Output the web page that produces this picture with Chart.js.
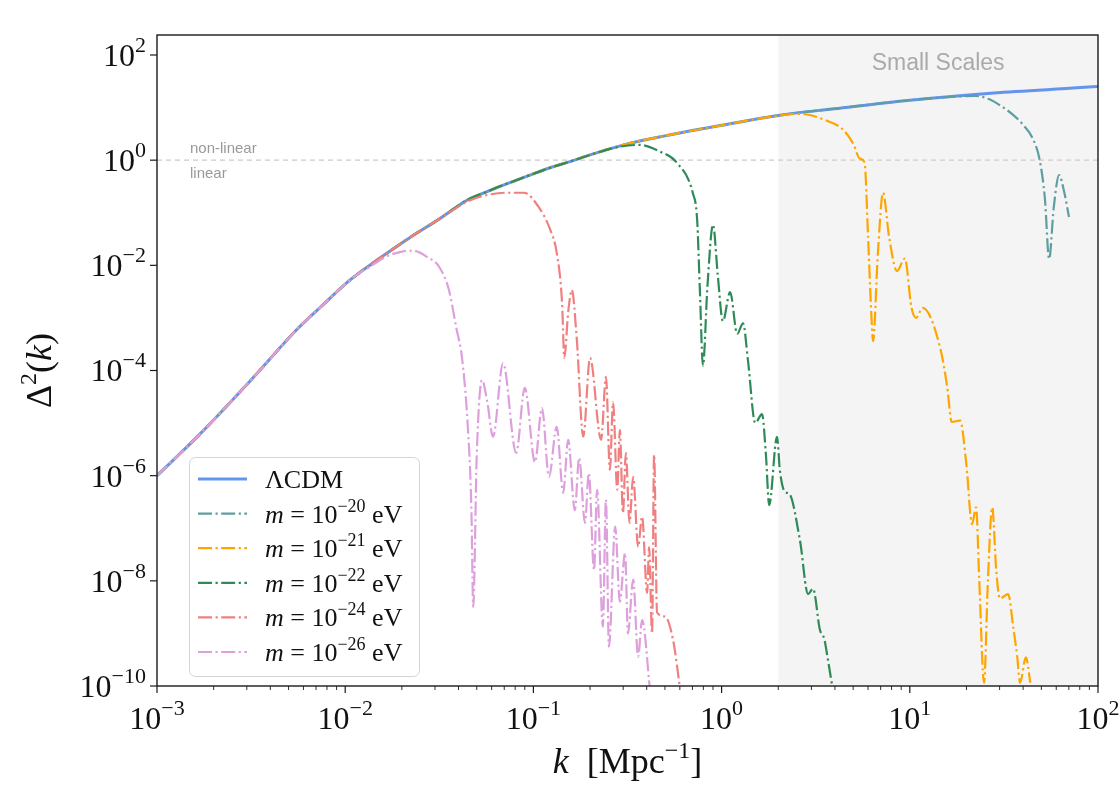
<!DOCTYPE html>
<html>
<head>
<meta charset="utf-8">
<title>Delta^2(k)</title>
<script src="https://cdn.jsdelivr.net/npm/chart.js@4.4.0/dist/chart.umd.min.js"></script>
<style>
body{margin:0;background:#fff;}
#box{width:1119px;height:791px;}
</style>
</head>
<body>
<div id="box"><canvas id="myChart" width="1119" height="791"></canvas></div>
<script>

// LCDM reference curve
const kLCDM = [1.0e-3, 1.7e-3, 3.16e-3, 5.6e-3, 7.9e-3, 1.0e-2, 1.17e-2, 1.41e-2, 1.78e-2, 2.24e-2, 3.16e-2, 3.98e-2, 4.6e-2, 5.25e-2, 6.3e-2, 7.9e-2, 0.1, 0.126, 0.158, 0.2, 0.316, 0.5, 1.0, 2.0, 3.98, 10, 31.6, 100];
const dLCDM = [1.0e-6, 6.3e-6, 6.6e-5, 6.3e-4, 2.0e-3, 4.4e-3, 6.9e-3, 1.12e-2, 2.0e-2, 3.5e-2, 7.6e-2, 0.135, 0.185, 0.225, 0.295, 0.40, 0.55, 0.74, 0.95, 1.26, 2.04, 2.9, 4.6, 7.1, 9.5, 13.8, 19.5, 25.1];

// m = 1e-20 eV (only the part after it leaves LCDM)
const k20 = [17.8, 22.4, 26.3, 30.2, 35.5, 39.8, 45.2, 49.0, 52.2, 55.0, 58.2, 62.1, 66.1, 70.1];
const d20 = [16.2, 16.6, 14.5, 11.0, 7.2, 4.8, 2.5, 1.0, 0.19, 1.32e-2, 0.126, 0.52, 0.25, 8.3e-2];

// m = 1e-21 eV
const k21 = [1.78, 2.61, 3.63, 4.42, 5.01, 5.43, 5.75, 6.0, 6.24, 6.38, 6.76, 7.21, 7.76, 8.55, 9.42, 10.2, 10.8, 11.7, 14.5, 15.8, 16.7, 18.5, 20.0, 21.4, 22.5, 23.4, 24.8, 26.0, 27.4, 28.8, 30.1, 33.3, 35.5, 37.2, 38.5, 41.4, 43.7];
const d21 = [6.6, 7.6, 5.6, 3.8, 2.04, 1.07, 0.91, 3.6e-2, 1.26e-3, 3.6e-4, 1.58e-2, 0.24, 3.5e-2, 7.8e-3, 1.35e-2, 1.58e-3, 1.0e-3, 1.55e-3, 2.7e-4, 4.9e-5, 1.05e-5, 1.12e-5, 1.58e-6, 1.2e-7, 2.5e-7, 1.0e-8, 1.15e-10, 1.0e-8, 2.5e-7, 1.58e-8, 4.6e-9, 5.6e-9, 1.26e-9, 3.7e-10, 1.15e-10, 3.5e-10, 1.15e-10];

// m = 1e-22 eV
const k22 = [0.282, 0.368, 0.471, 0.579, 0.705, 0.741, 0.767, 0.796, 0.841, 0.9, 0.955, 1.016, 1.11, 1.21, 1.3, 1.38, 1.51, 1.64, 1.72, 1.79, 1.97, 2.04, 2.17, 2.29, 2.61, 2.88, 3.06, 3.33, 3.51, 3.67, 3.91];
const d22 = [1.78, 1.95, 1.45, 0.89, 0.229, 7.6e-2, 3.2e-3, 1.23e-4, 4.0e-3, 5.9e-2, 6.3e-3, 8.7e-4, 3.1e-3, 5.0e-4, 7.9e-4, 1.58e-4, 1.0e-5, 1.48e-5, 2.5e-6, 2.75e-7, 5.5e-6, 1.26e-6, 4.9e-7, 4.5e-7, 5.8e-8, 5.6e-9, 7.1e-9, 1.17e-9, 7.9e-10, 3.2e-10, 8e-11];

// m = 1e-24 eV
const k24 = [3.55e-2, 4.47e-2, 5.6e-2, 7.1e-2, 8.9e-2, 0.107, 0.123, 0.133, 0.142, 0.146, 0.153, 0.16, 0.17, 0.184, 0.2, 0.229, 0.243, 0.255, 0.265, 0.279, 0.288, 0.299, 0.31, 0.324, 0.339, 0.36, 0.378, 0.402, 0.412, 0.427, 0.438, 0.454, 0.50, 0.552, 0.586, 0.603];
const d24 = [0.10, 0.165, 0.215, 0.24, 0.24, 0.126, 4.7e-2, 1.74e-2, 1.95e-3, 1.74e-4, 1.26e-3, 3.4e-3, 4.0e-4, 5.5e-6, 1.74e-4, 4.8e-6, 7.6e-5, 1.29e-6, 2.5e-5, 5.4e-7, 7.4e-6, 1.95e-7, 2.7e-6, 1.26e-7, 9.5e-7, 4.4e-8, 1.66e-7, 5.9e-9, 4.4e-8, 1.0e-9, 2.5e-6, 2.5e-9, 2.1e-9, 7.6e-10, 1.8e-10, 8e-11];

// m = 1e-26 eV
const k26 = [1.32e-2, 1.66e-2, 2.0e-2, 2.29e-2, 2.75e-2, 3.16e-2, 3.55e-2, 3.9e-2, 4.17e-2, 4.47e-2, 4.68e-2, 4.79e-2, 5.0e-2, 5.33e-2, 5.69e-2, 6.1e-2, 6.9e-2, 8.1e-2, 9.0e-2, 0.102, 0.111, 0.121, 0.133, 0.144, 0.153, 0.166, 0.175, 0.188, 0.197, 0.21, 0.218, 0.234, 0.243, 0.252, 0.272, 0.288, 0.307, 0.318, 0.339, 0.36, 0.378, 0.417];
const d26 = [8.9e-3, 1.48e-2, 1.82e-2, 1.9e-2, 1.41e-2, 9.3e-3, 3.5e-3, 6.3e-4, 1.8e-4, 1.0e-5, 2.5e-7, 3.2e-9, 2.5e-6, 6.6e-5, 2.5e-5, 5.5e-6, 1.38e-4, 2.7e-6, 4.7e-5, 1.8e-6, 1.95e-5, 9.5e-7, 8.5e-6, 4.7e-7, 4.8e-6, 2.2e-7, 2.2e-6, 1.26e-7, 1.12e-6, 1.6e-8, 5.4e-7, 1.35e-9, 3.5e-7, 5.6e-10, 1.07e-7, 4.0e-9, 3.4e-8, 1.0e-9, 1.05e-8, 3.6e-10, 1.8e-9, 8e-11];

const labels = ["ΛCDM", "−20", "−21", "−22", "−24", "−26"];
const colors = ["#6495ED", "#5F9EA0", "#FFA500", "#2E8B57", "#F08080", "#DDA0DD"];

const xTickExp = [-3, -2, -1, 0, 1, 2];
const yTickExp = [2, 0, -2, -4, -6, -8, -10];

const smallScaleStart = 2;
const yTop = 240;

// the model curves sit on LCDM until they turn over
function withLCDM(kArr, dArr){
    let pts = [];
    for(let i=0; i<kLCDM.length; i++){
        if(kLCDM[i] < kArr[0]) pts.push({x:kLCDM[i], y:dLCDM[i]});
    }
    for(let i=0; i<kArr.length; i++){
        pts.push({x:kArr[i], y:dArr[i]});
    }
    return pts;
}

const serif = "'Liberation Serif', 'Times New Roman', serif";
const sans = "'Liberation Sans', Arial, sans-serif";
const dashDot = [14, 3.5, 2.2, 3.5];

// draws pieces like 10 + superscript one after another
function richText(ctx, parts, x, y, align){
    let w = 0;
    parts.forEach(p => {
        ctx.font = p[2] + " " + p[1] + "px " + serif;
        w += ctx.measureText(p[0]).width;
    });
    let cx = x;
    if(align === "right") cx = x - w;
    if(align === "center") cx = x - w/2;
    ctx.textAlign = "left";
    ctx.textBaseline = "alphabetic";
    parts.forEach(p => {
        ctx.font = p[2] + " " + p[1] + "px " + serif;
        ctx.fillText(p[0], cx, y - p[3]);
        cx += ctx.measureText(p[0]).width;
    });
}

const whiteBack = {
    id: "whiteBack",
    beforeDraw(chart){
        const ctx = chart.ctx;
        ctx.save();
        ctx.fillStyle = "#ffffff";
        ctx.fillRect(0, 0, chart.width, chart.height);
        ctx.restore();
    }
};

const axesAndText = {
    id: "axesAndText",
    afterDraw(chart){
        const ctx = chart.ctx;
        const a = chart.chartArea;
        const xs = chart.scales.x, ys = chart.scales.y;
        ctx.save();

        // texts in the plot
        ctx.fillStyle = "#aaaaaa";
        ctx.font = "23px " + sans;
        ctx.textAlign = "center";
        ctx.fillText("Small Scales", (xs.getPixelForValue(smallScaleStart) + a.right)/2, 70);
        ctx.fillStyle = "#999999";
        ctx.font = "15px " + sans;
        ctx.textAlign = "left";
        ctx.fillText("non-linear", a.left + 33, ys.getPixelForValue(1) - 7);
        ctx.fillText("linear", a.left + 33, ys.getPixelForValue(1) + 18);

        // frame
        ctx.strokeStyle = "#1a1a1a";
        ctx.lineWidth = 1.4;
        ctx.strokeRect(a.left, a.top, a.right - a.left, a.bottom - a.top);

        // x ticks
        ctx.fillStyle = "#111111";
        for(let e=-3; e<=2; e++){
            for(let s=1; s<=9; s++){
                if(e === 2 && s > 1) break;
                const px = xs.getPixelForValue(s * Math.pow(10, e));
                ctx.lineWidth = s === 1 ? 1.2 : 0.9;
                ctx.beginPath();
                ctx.moveTo(px, a.bottom);
                ctx.lineTo(px, a.bottom + (s === 1 ? 7 : 4));
                ctx.stroke();
            }
        }
        xTickExp.forEach(e => {
            const px = xs.getPixelForValue(Math.pow(10, e));
            const ex = e < 0 ? "−" + (-e) : "" + e;
            richText(ctx, [["10", 32, "normal", 0], [ex, 22, "normal", 14]], px, a.bottom + 43, "center");
        });

        // y ticks
        yTickExp.forEach(e => {
            const py = ys.getPixelForValue(Math.pow(10, e));
            ctx.lineWidth = 1.2;
            ctx.beginPath();
            ctx.moveTo(a.left - 7, py);
            ctx.lineTo(a.left, py);
            ctx.stroke();
            const ex = e < 0 ? "−" + (-e) : "" + e;
            richText(ctx, [["10", 32, "normal", 0], [ex, 22, "normal", 14]], a.left - 11, py + 11, "right");
        });

        // axis titles
        richText(ctx, [["k", 36, "italic", 0], ["  [Mpc", 36, "normal", 0], ["−1", 24, "normal", 15], ["]", 36, "normal", 0]], (a.left + a.right)/2, 773, "center");
        ctx.save();
        ctx.translate(51, (a.top + a.bottom)/2 + 10);
        ctx.rotate(-Math.PI/2);
        richText(ctx, [["Δ", 36, "normal", 0], ["2", 24, "normal", 15], ["(", 36, "normal", 0], ["k", 36, "italic", 0], [")", 36, "normal", 0]], 0, 0, "center");
        ctx.restore();

        // legend
        const lx = 189.5, ly = 457.5, lw = 230, lh = 219;
        ctx.fillStyle = "rgba(255,255,255,0.85)";
        ctx.strokeStyle = "#d4d4d4";
        ctx.lineWidth = 1;
        ctx.beginPath();
        ctx.roundRect(lx, ly, lw, lh, 6);
        ctx.fill();
        ctx.stroke();
        for(let i=0; i<labels.length; i++){
            const yc = 479 + i * 34.6;
            const ds = chart.data.datasets[i];
            ctx.strokeStyle = ds.borderColor;
            ctx.lineWidth = ds.borderWidth;
            ctx.setLineDash(ds.borderDash || []);
            ctx.beginPath();
            ctx.moveTo(198, yc);
            ctx.lineTo(247, yc);
            ctx.stroke();
            ctx.setLineDash([]);
            ctx.fillStyle = "#111111";
            if(i === 0){
                richText(ctx, [[labels[i], 26, "normal", 0]], 265, yc + 9, "left");
            } else {
                richText(ctx, [["m", 26, "italic", 0], [" = 10", 26, "normal", 0], [labels[i], 18, "normal", 11], [" eV", 26, "normal", 0]], 265, yc + 9, "left");
            }
        }
        ctx.restore();
    }
};

let myChart1 = document.getElementById("myChart").getContext('2d');

let chart1 = new Chart(myChart1, {
    type: 'line',
    data: {
        datasets: [
            {
                label: labels[0],
                data: kLCDM.map((k, i) => ({x:k, y:dLCDM[i]})),
                borderColor: colors[0],
                borderWidth: 3,
                order: 5
            },
            {
                label: labels[1],
                data: withLCDM(k20, d20),
                borderColor: colors[1],
                borderWidth: 2.2,
                borderDash: dashDot,
                order: 4
            },
            {
                label: labels[2],
                data: withLCDM(k21, d21),
                borderColor: colors[2],
                borderWidth: 2.2,
                borderDash: dashDot,
                order: 3
            },
            {
                label: labels[3],
                data: withLCDM(k22, d22),
                borderColor: colors[3],
                borderWidth: 2.2,
                borderDash: dashDot,
                order: 2
            },
            {
                label: labels[4],
                data: withLCDM(k24, d24),
                borderColor: colors[4],
                borderWidth: 2.2,
                borderDash: dashDot,
                order: 1
            },
            {
                label: labels[5],
                data: withLCDM(k26, d26),
                borderColor: colors[5],
                borderWidth: 2.2,
                borderDash: dashDot,
                order: 0
            },
            {
                // non-linear / linear divide
                label: "divide",
                data: [{x:1e-3, y:1}, {x:1e2, y:1}],
                borderColor: "#cccccc",
                borderWidth: 1.2,
                borderDash: [5, 4],
                cubicInterpolationMode: 'default',
                tension: 0,
                order: 6
            },
            {
                // small scales band
                label: "small",
                data: [{x:smallScaleStart, y:1e3}, {x:100, y:1e3}],
                borderWidth: 0,
                borderColor: "rgba(0,0,0,0)",
                backgroundColor: "#f4f4f4",
                fill: 'start',
                tension: 0,
                order: 7
            }
        ]
    },
    options: {
        responsive: false,
        animation: false,
        layout: {
            padding: {left:157, right:21, top:35, bottom:105}
        },
        elements: {
            point: {radius: 0, hoverRadius: 0},
            line: {cubicInterpolationMode: 'monotone', fill: false}
        },
        scales: {
            x: {type: 'logarithmic', min: 1e-3, max: 1e2, display: false},
            y: {type: 'logarithmic', min: 1e-10, max: yTop, display: false}
        },
        plugins: {
            legend: {display: false},
            tooltip: {enabled: false}
        }
    },
    plugins: [whiteBack, axesAndText]
});

</script>
</body>
</html>
